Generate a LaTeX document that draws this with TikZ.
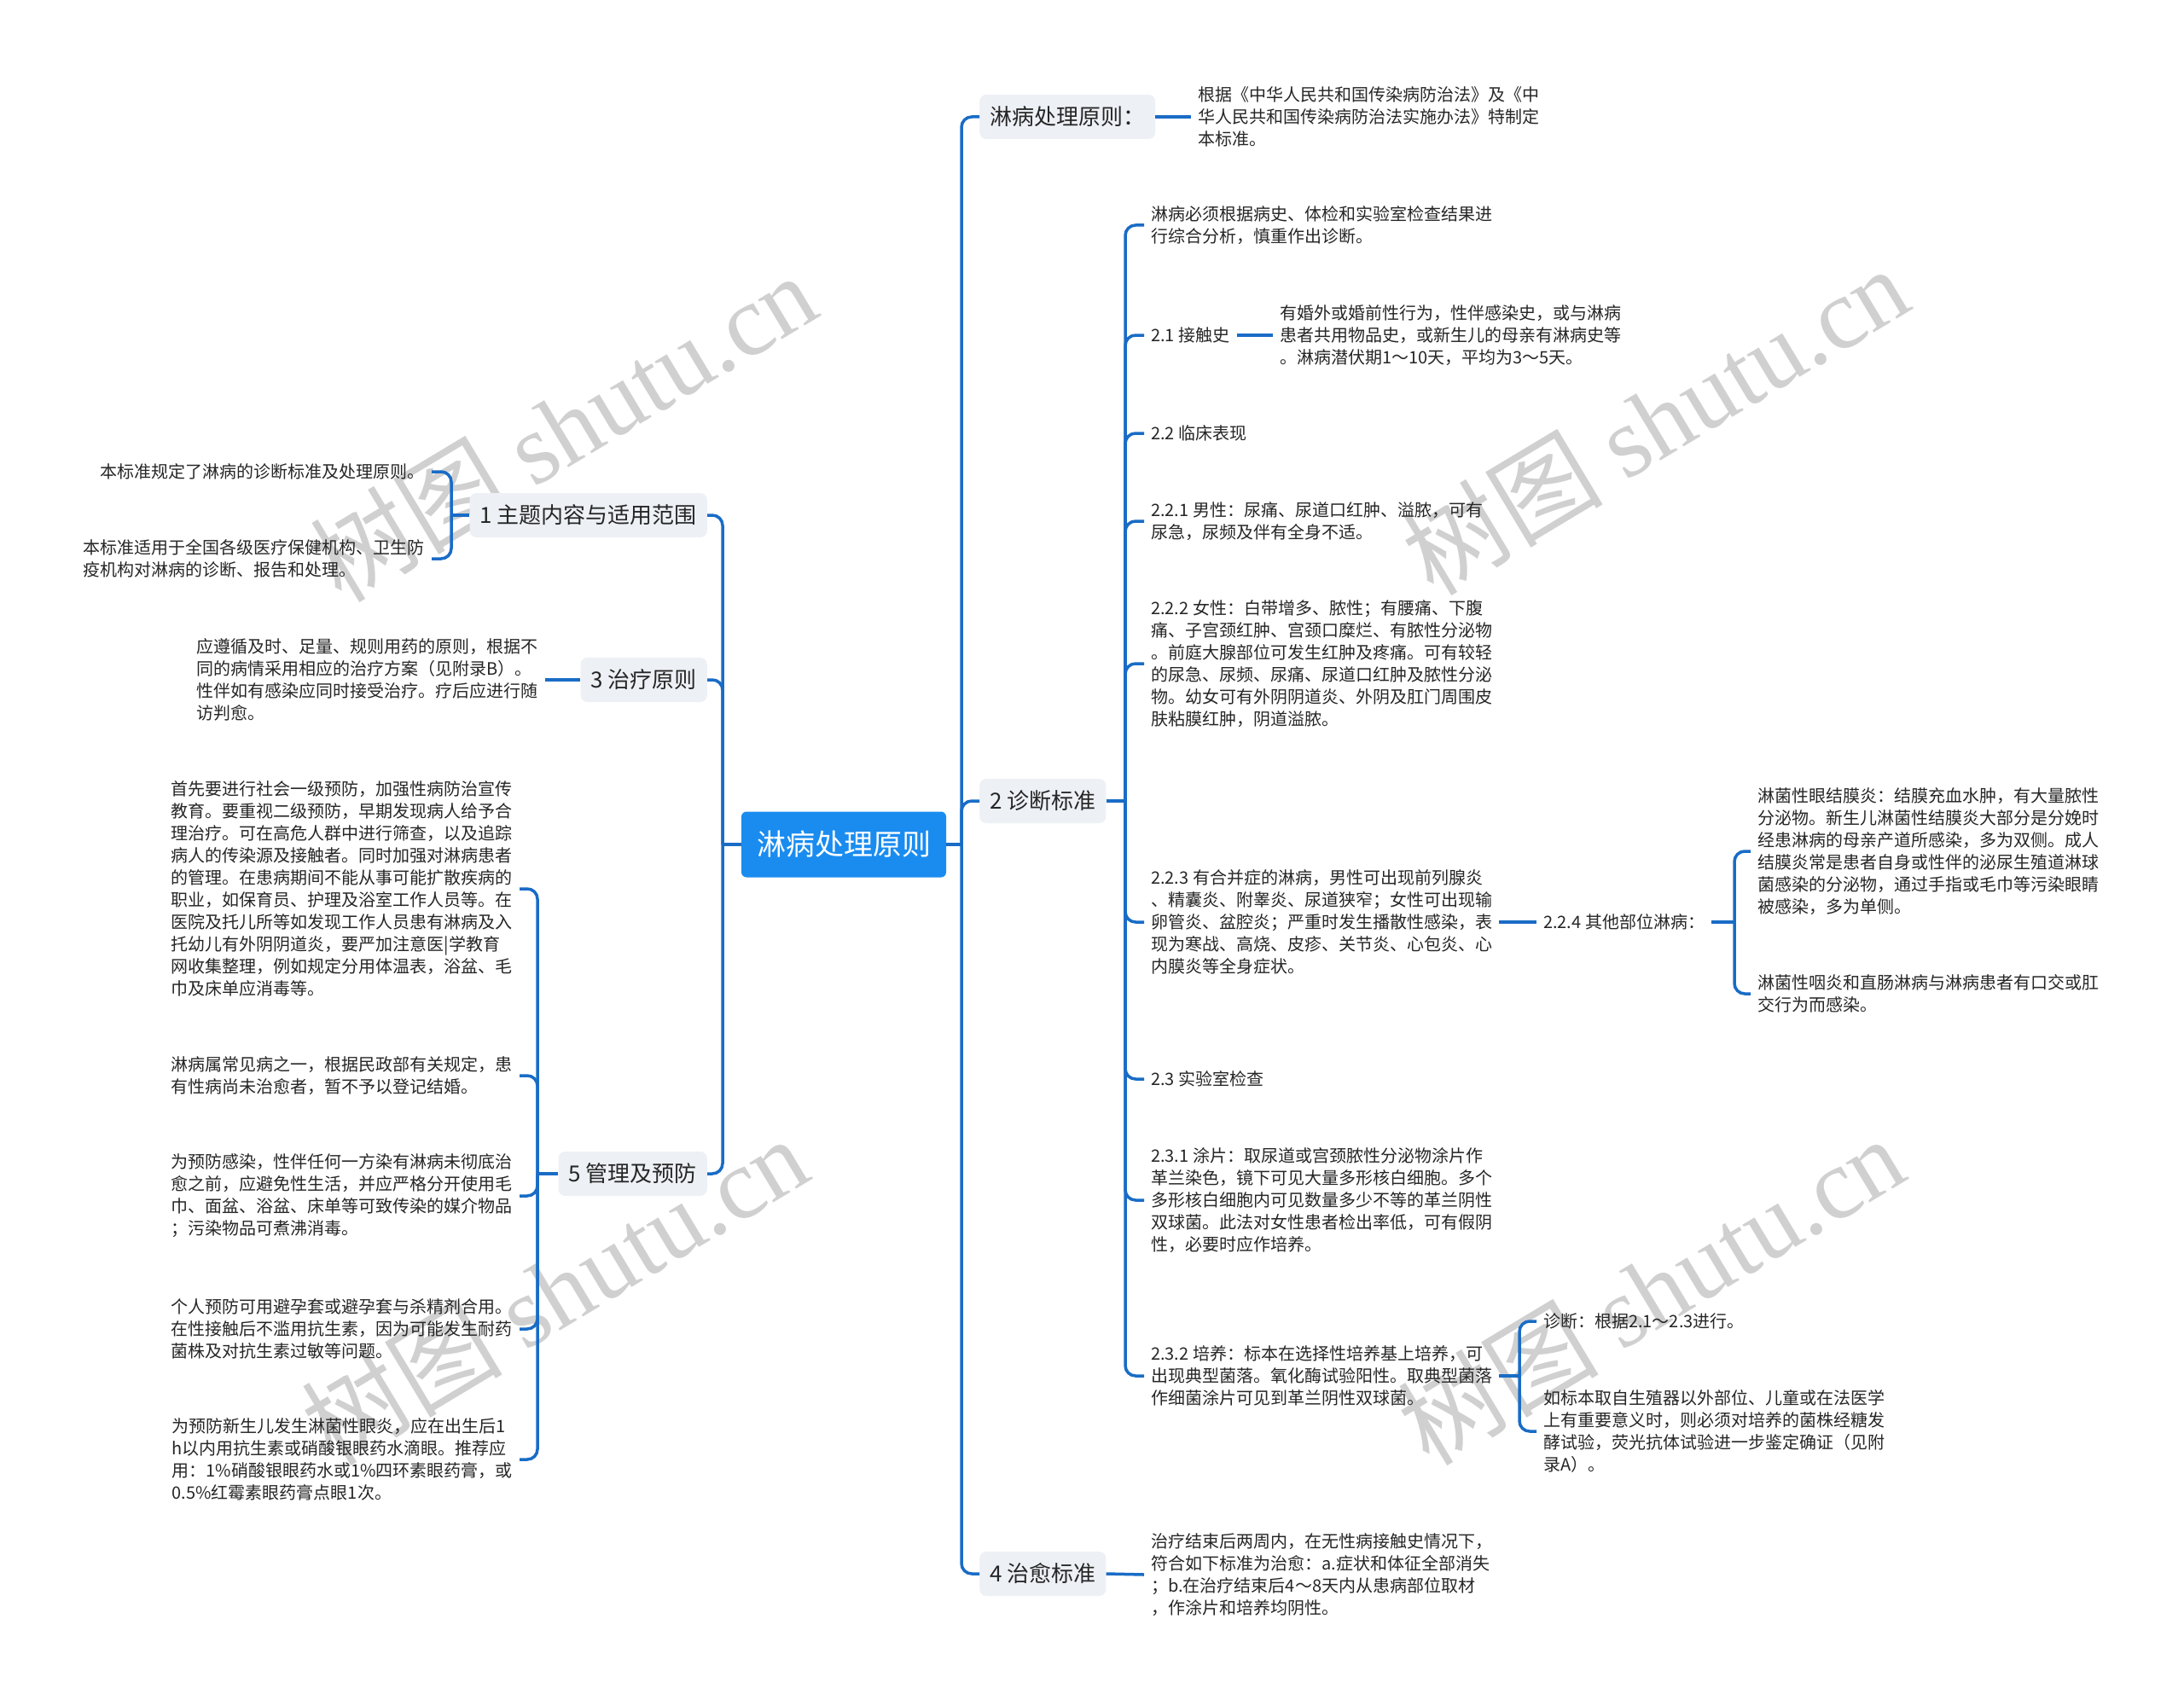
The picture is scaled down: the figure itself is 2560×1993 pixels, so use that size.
\documentclass[tikz,border=0pt]{standalone}
\usepackage{fontspec}
\setmainfont{Noto Sans CJK SC}
\newfontfamily\wmserif{Liberation Serif}
\newfontfamily\wmsans{Noto Sans CJK SC}
\definecolor{linkblue}{RGB}{25,108,198}
\definecolor{centerblue}{RGB}{26,140,240}
\definecolor{boxgray}{RGB}{237,240,245}
\definecolor{txt}{RGB}{38,38,38}
\definecolor{wm}{RGB}{208,208,208}
\tikzset{
  link/.style={draw=linkblue, line width=3.5pt, rounded corners=12pt},
  centernode/.style={fill=centerblue, text=white, rounded corners=6pt, minimum width=240pt, minimum height=77pt, inner sep=0pt, font=\fontsize{34}{40}\selectfont},
  branch/.style={fill=boxgray, text=txt, rounded corners=8pt, minimum height=52pt, inner xsep=12pt, inner ysep=0pt, font=\fontsize{26}{32}\selectfont},
  leaf/.style={text=txt, align=left, inner xsep=8pt, inner ysep=3pt, font=\fontsize{20}{26}\selectfont},
  wmark/.style={text=wm, rotate=31, inner sep=0pt}
}
\begin{document}
\begin{tikzpicture}[x=1pt,y=-1pt]
\useasboundingbox (0,0) rectangle (2560,1993);
\fill[white] (0,0) rectangle (2560,1993);

% watermarks
\node[wmark] (wm1) at (660,500) {\fontsize{118}{118}\wmsans 树图 \wmserif shutu.cn};
\node[wmark] (wm2) at (1940,492) {\fontsize{118}{118}\wmsans 树图 \wmserif shutu.cn};
\node[wmark] (wm3) at (650,1512) {\fontsize{118}{118}\wmsans 树图 \wmserif shutu.cn};
\node[wmark] (wm4) at (1935,1512) {\fontsize{118}{118}\wmsans 树图 \wmserif shutu.cn};

% central node
\node[centernode] (C) at (989,990) {淋病处理原则};

% junctions
\coordinate (jR) at (1127,990);
\coordinate (jL) at (847,990);
\coordinate (j2) at (1319,939);
\coordinate (j224) at (2033,1081);
\coordinate (j232) at (1781,1613);
\coordinate (j1) at (529,604);
\coordinate (j5) at (630,1376);

% level 1 right
\node[branch, anchor=west] (R1) at (1148,137) {淋病处理原则：};
\node[branch, anchor=west] (R2) at (1148,939) {2 诊断标准};
\node[branch, anchor=west] (R3) at (1148,1845) {4 治愈标准};
% level 1 left
\node[branch, anchor=east] (L1) at (829,604) {1 主题内容与适用范围};
\node[branch, anchor=east] (L3) at (829,797) {3 治疗原则};
\node[branch, anchor=east] (L5) at (829,1376) {5 管理及预防};

% right leaves
\node[leaf, anchor=west] (t0) at (1396,137) {根据《中华人民共和国传染病防治法》及《中\\华人民共和国传染病防治法实施办法》特制定\\本标准。};

\node[leaf, anchor=west] (d1) at (1341,264) {淋病必须根据病史、体检和实验室检查结果进\\行综合分析，慎重作出诊断。};
\node[leaf, anchor=west] (d2) at (1341,393) {2.1 接触史};
\node[leaf, anchor=west] (d2t) at (1492,393) {有婚外或婚前性行为，性伴感染史，或与淋病\\患者共用物品史，或新生儿的母亲有淋病史等\\。淋病潜伏期1～10天，平均为3～5天。};
\node[leaf, anchor=west] (d3) at (1341,508) {2.2 临床表现};
\node[leaf, anchor=west] (d4) at (1341,611) {2.2.1 男性：尿痛、尿道口红肿、溢脓，可有\\尿急，尿频及伴有全身不适。};
\node[leaf, anchor=west] (d5) at (1341,778) {2.2.2 女性：白带增多、脓性；有腰痛、下腹\\痛、子宫颈红肿、宫颈口糜烂、有脓性分泌物\\。前庭大腺部位可发生红肿及疼痛。可有较轻\\的尿急、尿频、尿痛、尿道口红肿及脓性分泌\\物。幼女可有外阴阴道炎、外阴及肛门周围皮\\肤粘膜红肿，阴道溢脓。};
\node[leaf, anchor=west] (d6) at (1341,1081) {2.2.3 有合并症的淋病，男性可出现前列腺炎\\、精囊炎、附睾炎、尿道狭窄；女性可出现输\\卵管炎、盆腔炎；严重时发生播散性感染，表\\现为寒战、高烧、皮疹、关节炎、心包炎、心\\内膜炎等全身症状。};
\node[leaf, anchor=west] (d7) at (1801,1081) {2.2.4 其他部位淋病：};
\node[leaf, anchor=west] (e1) at (2052,998) {淋菌性眼结膜炎：结膜充血水肿，有大量脓性\\分泌物。新生儿淋菌性结膜炎大部分是分娩时\\经患淋病的母亲产道所感染，多为双侧。成人\\结膜炎常是患者自身或性伴的泌尿生殖道淋球\\菌感染的分泌物，通过手指或毛巾等污染眼睛\\被感染，多为单侧。};
\node[leaf, anchor=west] (e2) at (2052,1165) {淋菌性咽炎和直肠淋病与淋病患者有口交或肛\\交行为而感染。};
\node[leaf, anchor=west] (d8) at (1341,1265) {2.3 实验室检查};
\node[leaf, anchor=west] (d9) at (1341,1407) {2.3.1 涂片：取尿道或宫颈脓性分泌物涂片作\\革兰染色，镜下可见大量多形核白细胞。多个\\多形核白细胞内可见数量多少不等的革兰阴性\\双球菌。此法对女性患者检出率低，可有假阴\\性，必要时应作培养。};
\node[leaf, anchor=west] (d10) at (1341,1613) {2.3.2 培养：标本在选择性培养基上培养，可\\出现典型菌落。氧化酶试验阳性。取典型菌落\\作细菌涂片可见到革兰阴性双球菌。};
\node[leaf, anchor=west] (f1) at (1801,1549) {诊断：根据2.1～2.3进行。};
\node[leaf, anchor=west] (f2) at (1801,1678) {如标本取自生殖器以外部位、儿童或在法医学\\上有重要意义时，则必须对培养的菌株经糖发\\酵试验，荧光抗体试验进一步鉴定确证（见附\\录A）。};
\node[leaf, anchor=west] (g1) at (1341,1846) {治疗结束后两周内，在无性病接触史情况下，\\符合如下标准为治愈：a.症状和体征全部消失\\；b.在治疗结束后4～8天内从患病部位取材\\，作涂片和培养均阴性。};

% left leaves
\node[leaf, anchor=east] (a1) at (506,553) {本标准规定了淋病的诊断标准及处理原则。};
\node[leaf, anchor=east] (a2) at (506,655) {本标准适用于全国各级医疗保健机构、卫生防\\疫机构对淋病的诊断、报告和处理。};
\node[leaf, anchor=east] (b1) at (639,797) {应遵循及时、足量、规则用药的原则，根据不\\同的病情采用相应的治疗方案（见附录B）。\\性伴如有感染应同时接受治疗。疗后应进行随\\访判愈。};
\node[leaf, anchor=east] (c1) at (609,1042) {首先要进行社会一级预防，加强性病防治宣传\\教育。要重视二级预防，早期发现病人给予合\\理治疗。可在高危人群中进行筛查，以及追踪\\病人的传染源及接触者。同时加强对淋病患者\\的管理。在患病期间不能从事可能扩散疾病的\\职业，如保育员、护理及浴室工作人员等。在\\医院及托儿所等如发现工作人员患有淋病及入\\托幼儿有外阴阴道炎，要严加注意医|学教育\\网收集整理，例如规定分用体温表，浴盆、毛\\巾及床单应消毒等。};
\node[leaf, anchor=east] (c2) at (609,1261) {淋病属常见病之一，根据民政部有关规定，患\\有性病尚未治愈者，暂不予以登记结婚。};
\node[leaf, anchor=east] (c3) at (609,1402) {为预防感染，性伴任何一方染有淋病未彻底治\\愈之前，应避免性生活，并应严格分开使用毛\\巾、面盆、浴盆、床单等可致传染的媒介物品\\；污染物品可煮沸消毒。};
\node[leaf, anchor=east] (c4) at (609,1558) {个人预防可用避孕套或避孕套与杀精剂合用。\\在性接触后不滥用抗生素，因为可能发生耐药\\菌株及对抗生素过敏等问题。};
\node[leaf, anchor=east] (c5) at (609,1711) {为预防新生儿发生淋菌性眼炎，应在出生后1\\h以内用抗生素或硝酸银眼药水滴眼。推荐应\\用：1\%硝酸银眼药水或1\%四环素眼药膏，或\\0.5\%红霉素眼药膏点眼1次。};

% connectors: center
\draw[link] (C.east) -- (jR);
\draw[link] (C.west) -- (jL);
\draw[link] (jR) -- (jR |- R1.west) -- (R1.west);
\draw[link] (jR) -- (jR |- R2.west) -- (R2.west);
\draw[link] (jR) -- (jR |- R3.west) -- (R3.west);
\draw[link] (jL) -- (jL |- L1.east) -- (L1.east);
\draw[link] (jL) -- (jL |- L3.east) -- (L3.east);
\draw[link] (jL) -- (jL |- L5.east) -- (L5.east);

% right branch 1 and 4
\draw[link] (R1.east) -- (t0.west);
\draw[link] (R3.east) -- (g1.west);

% branch 2
\draw[link] (R2.east) -- (j2);
\foreach \n in {d1,d2,d3,d4,d5,d6,d8,d9,d10}
  \draw[link] (j2) -- (j2 |- \n.west) -- (\n.west);
\draw[link] (d2.east) -- (d2t.west);
\draw[link] (d6.east) -- (d7.west);
\draw[link] (d7.east) -- (j224);
\foreach \n in {e1,e2}
  \draw[link] (j224) -- (j224 |- \n.west) -- (\n.west);
\draw[link] (d10.east) -- (j232);
\foreach \n in {f1,f2}
  \draw[link] (j232) -- (j232 |- \n.west) -- (\n.west);

% left branches
\draw[link] (L1.west) -- (j1);
\foreach \n in {a1,a2}
  \draw[link] (j1) -- (j1 |- \n.east) -- (\n.east);
\draw[link] (L3.west) -- (b1.east);
\draw[link] (L5.west) -- (j5);
\foreach \n in {c1,c2,c3,c4,c5}
  \draw[link] (j5) -- (j5 |- \n.east) -- (\n.east);
\end{tikzpicture}
\end{document}
